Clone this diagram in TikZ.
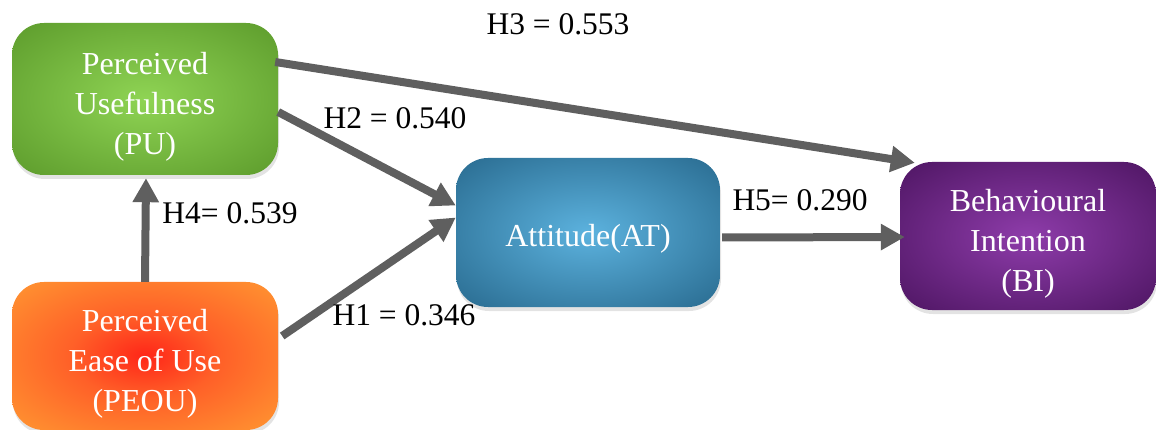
\documentclass[tikz,border=0pt]{standalone}
\usepackage{fontspec}
\setmainfont{Liberation Serif}
\usetikzlibrary{arrows.meta,calc,shadows}
\definecolor{arrowgray}{HTML}{5F5F5F}
\definecolor{puin}{RGB}{143,212,84}
\definecolor{puout}{RGB}{88,150,40}
\definecolor{pein}{RGB}{255,38,24}
\definecolor{pemid}{RGB}{255,96,40}
\definecolor{peout}{RGB}{255,166,52}
\definecolor{atin}{RGB}{92,178,222}
\definecolor{atout}{RGB}{36,100,136}
\definecolor{biin}{RGB}{142,60,170}
\definecolor{biout}{RGB}{72,18,92}
\pgfdeclareradialshading{pushade}{\pgfpoint{0bp}{0bp}}{color(0bp)=(puin); color(39bp)=(puout); color(50bp)=(puout)}
\pgfdeclareradialshading{peshade}{\pgfpoint{0bp}{0bp}}{color(0bp)=(pein); color(14bp)=(pemid); color(42bp)=(peout); color(50bp)=(peout)}
\pgfdeclareradialshading{atshade}{\pgfpoint{0bp}{0bp}}{color(0bp)=(atin); color(39bp)=(atout); color(50bp)=(atout)}
\pgfdeclareradialshading{bishade}{\pgfpoint{0bp}{0bp}}{color(0bp)=(biin); color(39bp)=(biout); color(50bp)=(biout)}
\begin{document}
\begin{tikzpicture}[x=1pt,y=-1pt,
  box/.style={rounded corners=32pt,
    drop shadow={shadow xshift=1pt, shadow yshift=-4pt, opacity=0.22}},
  boxtext/.style={text=white, align=center, inner sep=0pt,
    font=\fontsize{32}{40}\selectfont, yshift=-8pt},
  link/.style={draw=arrowgray, line width=8pt,
    -{Triangle[length=24pt,width=25pt]}},
  lab/.style={font=\fontsize{31.5}{36}\selectfont, text=black, inner sep=0pt}]
\useasboundingbox (0,0) rectangle (1156,430);
\node[box, minimum width=266pt, minimum height=152pt, shading=pushade,
  label={[boxtext]center:{Perceived\\Usefulness\\(PU)}}]
  (PU) at (145,99) {};
\node[box, minimum width=266pt, minimum height=148pt, shading=peshade,
  label={[boxtext]center:{Perceived\\Ease of Use\\(PEOU)}}]
  (PEOU) at (145,356) {};
\node[box, minimum width=264pt, minimum height=149pt, shading=atshade,
  label={[boxtext, yshift=2pt]center:{Attitude(AT)}}]
  (AT) at (588,232.5) {};
\node[box, minimum width=256pt, minimum height=148pt, shading=bishade,
  label={[boxtext]center:{Behavioural\\Intention\\(BI)}}]
  (BI) at (1028,236) {};
\coordinate (s3) at ($(PU.east)+(-3,-37)$);
\coordinate (e3) at ($(BI.north west)+(15,1)$);
\coordinate (s2) at ($(PU.east)+(0,13)$);
\coordinate (e2) at ($(AT.west)+(0,-27)$);
\coordinate (s1) at ($(PEOU.east)+(4,-20)$);
\coordinate (e1) at ($(AT.west)+(0,-15)$);
\coordinate (s5) at ($(AT.east)+(2,5)$);
\coordinate (e5) at ($(BI.west)+(5,1)$);
\coordinate (s4) at (PEOU.north);
\coordinate (e4) at ($(PU.south)+(1,3)$);
\draw[link] (s3) -- (e3);
\draw[link] (s2) -- (e2);
\draw[link] (s1) -- (e1);
\draw[link] (s5) -- (e5);
\draw[link] (s4) -- (e4);
\node[lab] (l3) at (558,24) {H3 = 0.553};
\node[lab] (l2) at (395,118) {H2 = 0.540};
\node[lab] (l4) at (230,213) {H4= 0.539};
\node[lab] (l1) at (404,315) {H1 = 0.346};
\node[lab] (l5) at (800,200) {H5= 0.290};
\end{tikzpicture}
\end{document}
